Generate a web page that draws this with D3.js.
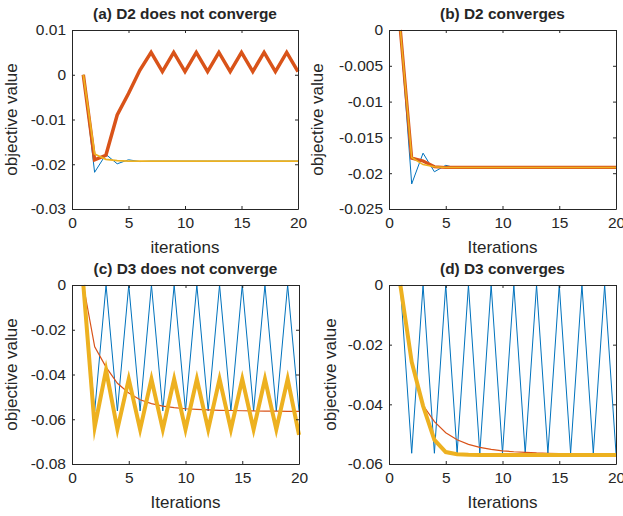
<!DOCTYPE html>
<html>
<head>
<meta charset="utf-8">
<script src="https://cdn.jsdelivr.net/npm/d3@7"></script>
<style>
  body { margin: 0; background: #fff; }
  text { font-family: "Liberation Sans", Arial, sans-serif; fill: #262626; }
</style>
</head>
<body>
<svg id="chart" width="623" height="516"></svg>
<script>
// iterations shared by all four panels
const iterations = [1, 2, 3, 4, 5, 6, 7, 8, 9, 10, 11, 12, 13, 14, 15, 16, 17, 18, 19, 20];
const xTicks = [0, 5, 10, 15, 20];

// (a) D2 does not converge
const aBlue = [0, -0.0218, -0.0178, -0.0199, -0.0190, -0.0194, -0.0193, -0.0193, -0.0193, -0.0193,
  -0.0193, -0.0193, -0.0193, -0.0193, -0.0193, -0.0193, -0.0193, -0.0193, -0.0193, -0.0193];
const aOrange = [0, -0.0190, -0.0180, -0.0090, -0.0042, 0.0010, 0.0050, 0.0007, 0.0050, 0.0007,
  0.0050, 0.0007, 0.0050, 0.0007, 0.0050, 0.0007, 0.0050, 0.0007, 0.0050, 0.0007];
const aYellow = [0, -0.0177, -0.0189, -0.0192, -0.0193, -0.0193, -0.0193, -0.0193, -0.0193, -0.0193,
  -0.0193, -0.0193, -0.0193, -0.0193, -0.0193, -0.0193, -0.0193, -0.0193, -0.0193, -0.0193];
const aTicks = [0.01, 0, -0.01, -0.02, -0.03];

// (b) D2 converges
const bBlue = [0, -0.0215, -0.0172, -0.0198, -0.0189, -0.0193, -0.0192, -0.0192, -0.0192, -0.0192,
  -0.0192, -0.0192, -0.0192, -0.0192, -0.0192, -0.0192, -0.0192, -0.0192, -0.0192, -0.0192];
const bOrange = [0, -0.0179, -0.0183, -0.0191, -0.0192, -0.0192, -0.0192, -0.0192, -0.0192, -0.0192,
  -0.0192, -0.0192, -0.0192, -0.0192, -0.0192, -0.0192, -0.0192, -0.0192, -0.0192, -0.0192];
const bYellow = [0, -0.0178, -0.0188, -0.0191, -0.0192, -0.0192, -0.0192, -0.0192, -0.0192, -0.0192,
  -0.0192, -0.0192, -0.0192, -0.0192, -0.0192, -0.0192, -0.0192, -0.0192, -0.0192, -0.0192];
const bTicks = [0, -0.005, -0.01, -0.015, -0.02, -0.025];

// (c) D3 does not converge
const cBlue = [0, -0.0563, 0, -0.0563, 0, -0.0563, 0, -0.0563, 0, -0.0563,
  0, -0.0563, 0, -0.0563, 0, -0.0563, 0, -0.0563, 0, -0.0563];
const cOrange = [0, -0.0276, -0.0367, -0.0439, -0.0483, -0.0513, -0.0530, -0.0541, -0.0548, -0.0553,
  -0.0556, -0.0558, -0.0560, -0.0561, -0.0562, -0.0563, -0.0564, -0.0564, -0.0565, -0.0565];
const cYellow = [0, -0.0635, -0.0380, -0.0645, -0.0420, -0.0645, -0.0420, -0.0645, -0.0420, -0.0645,
  -0.0420, -0.0645, -0.0420, -0.0645, -0.0420, -0.0645, -0.0420, -0.0645, -0.0420, -0.0670];
const cTicks = [0, -0.02, -0.04, -0.06, -0.08];

// (d) D3 converges
const dBlue = [0, -0.0564, 0, -0.0564, 0, -0.0564, 0, -0.0564, 0, -0.0564,
  0, -0.0564, 0, -0.0564, 0, -0.0564, 0, -0.0564, 0, -0.0564];
const dOrange = [0, -0.0255, -0.0403, -0.0458, -0.0495, -0.0519, -0.0534, -0.0544, -0.0551, -0.0556,
  -0.0559, -0.0561, -0.0563, -0.0564, -0.0565, -0.0566, -0.0567, -0.0567, -0.0568, -0.0568];
const dYellow = [0, -0.0258, -0.0405, -0.0519, -0.0560, -0.0567, -0.0569, -0.0570, -0.0570, -0.0570,
  -0.0570, -0.0570, -0.0570, -0.0570, -0.0570, -0.0570, -0.0570, -0.0570, -0.0570, -0.0570];
const dTicks = [0, -0.02, -0.04, -0.06];

const colors = { blue: "#0072BD", orange: "#D95319", yellow: "#EDB120" };
const axisColor = "#262626";

const svg = d3.select("#chart");

const panels = [
  { title: "(a) D2 does not converge", xLabel: "iterations", box: [72, 30, 298, 209],
    yDomain: [-0.03, 0.01], yTicks: aTicks, labelGap: 55,
    series: [[aBlue, "blue", 1], [aOrange, "orange", 3.5], [aYellow, "yellow", 1.8]] },
  { title: "(b) D2 converges", xLabel: "Iterations", box: [389, 30, 616, 209],
    yDomain: [-0.025, 0], yTicks: bTicks, labelGap: 66,
    series: [[bBlue, "blue", 1], [bOrange, "orange", 3.2], [bYellow, "yellow", 1.5]] },
  { title: "(c) D3 does not converge", xLabel: "Iterations", box: [72, 285, 299, 464],
    yDomain: [-0.08, 0], yTicks: cTicks, labelGap: 55,
    series: [[cBlue, "blue", 1], [cOrange, "orange", 1.2], [cYellow, "yellow", 4]] },
  { title: "(d) D3 converges", xLabel: "Iterations", box: [389, 285, 616, 464],
    yDomain: [-0.06, 0], yTicks: dTicks, labelGap: 53,
    series: [[dBlue, "blue", 1], [dOrange, "orange", 1.2], [dYellow, "yellow", 4]] }
];

const fmt = (v) => (v === 0 ? "0" : String(+v.toFixed(3)));

panels.forEach((p) => {
  const [x0, y0, x1, y1] = p.box;
  const x = d3.scaleLinear().domain([0, 20]).range([x0, x1]);
  const y = d3.scaleLinear().domain(p.yDomain).range([y1, y0]);
  const g = svg.append("g");

  // lines (blue, orange, yellow in plot order)
  const line = d3.line().x((d, i) => x(iterations[i])).y((d) => y(d));
  p.series.forEach(([vals, c, w]) => {
    g.append("path")
      .datum(vals)
      .attr("d", line)
      .attr("fill", "none")
      .attr("stroke", colors[c])
      .attr("stroke-width", w)
      .attr("stroke-linejoin", "miter")
      .attr("stroke-miterlimit", 10);
  });

  // bottom and left axes, ticks pointing inwards
  const xAxis = g.append("g").attr("transform", `translate(0,${y1})`)
    .call(d3.axisBottom(x).tickValues(xTicks).tickSizeInner(-3).tickSizeOuter(0).tickPadding(8));
  const yAxis = g.append("g").attr("transform", `translate(${x0},0)`)
    .call(d3.axisLeft(y).tickValues(p.yTicks).tickFormat(fmt).tickSizeInner(-3).tickSizeOuter(0).tickPadding(6));
  // top and right, ticks only
  const xTop = g.append("g").attr("transform", `translate(0,${y0})`)
    .call(d3.axisTop(x).tickValues(xTicks).tickSizeInner(-3).tickSizeOuter(0).tickFormat(""));
  const yRight = g.append("g").attr("transform", `translate(${x1},0)`)
    .call(d3.axisRight(y).tickValues(p.yTicks).tickSizeInner(-3).tickSizeOuter(0).tickFormat(""));

  [xAxis, yAxis, xTop, yRight].forEach((a) => {
    a.selectAll("path, line").attr("stroke", axisColor).attr("stroke-width", 1);
    a.selectAll("text").attr("font-size", 15.5).attr("fill", axisColor)
      .attr("font-family", '"Liberation Sans", Arial, sans-serif');
  });

  g.append("text")
    .attr("x", (x0 + x1) / 2)
    .attr("y", y0 - 11)
    .attr("text-anchor", "middle")
    .attr("font-size", 15.4)
    .attr("font-weight", "bold")
    .text(p.title);

  g.append("text")
    .attr("x", (x0 + x1) / 2)
    .attr("y", y1 + 44)
    .attr("text-anchor", "middle")
    .attr("font-size", 17)
    .text(p.xLabel);

  g.append("text")
    .attr("transform", `translate(${x0 - p.labelGap},${(y0 + y1) / 2}) rotate(-90)`)
    .attr("text-anchor", "middle")
    .attr("font-size", 17)
    .text("objective value");
});
</script>
</body>
</html>
